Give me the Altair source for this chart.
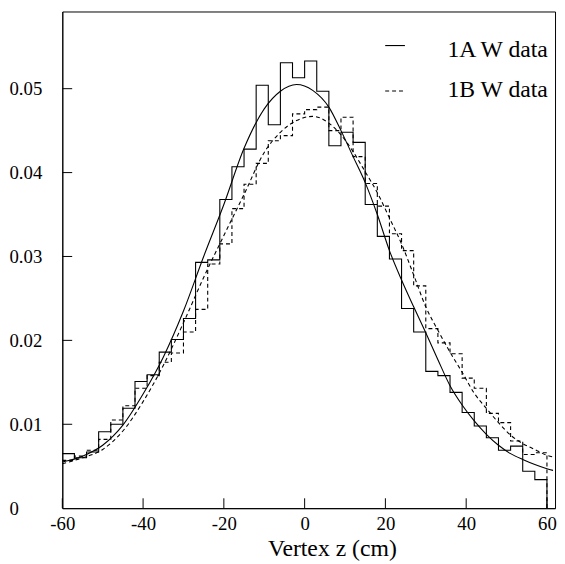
import altair as alt
import pandas as pd

# ---------------- data ----------------
bin_left = [-60, -57, -54, -51, -48, -45, -42, -39, -36, -33,
            -30, -27, -24, -21, -18, -15, -12, -9, -6, -3,
            0, 3, 6, 9, 12, 15, 18, 21, 24, 27,
            30, 33, 36, 39, 42, 45, 48, 51, 54, 57]
bin_end = 60

hist_1a = [0.0065, 0.0060, 0.0067, 0.0091, 0.0100, 0.0119, 0.0151, 0.0159, 0.0186, 0.0201,
           0.0226, 0.0293, 0.0296, 0.0368, 0.0407, 0.0428, 0.0504, 0.0457, 0.0531, 0.0513,
           0.0533, 0.0497, 0.0432, 0.0448, 0.0436, 0.0362, 0.0324, 0.0297, 0.0238, 0.0210,
           0.0163, 0.0158, 0.0138, 0.0114, 0.0098, 0.0084, 0.0069, 0.0074, 0.0044, 0.0034]

hist_1b = [0.0057, 0.0062, 0.0069, 0.0082, 0.0105, 0.0122, 0.0143, 0.0158, 0.0174, 0.0185,
           0.0210, 0.0237, 0.0291, 0.0315, 0.0357, 0.0386, 0.0411, 0.0438, 0.0444, 0.0470,
           0.0475, 0.0478, 0.0450, 0.0466, 0.0419, 0.0387, 0.0360, 0.0327, 0.0307, 0.0265,
           0.0214, 0.0197, 0.0184, 0.0155, 0.0143, 0.0113, 0.0102, 0.0080, 0.0064, 0.0066]

fit_x = [-60, -55, -50, -45, -40, -35, -30, -25, -20, -15, -10, -6, -2, 2, 6, 9, 12,
         15, 18, 21, 24, 27, 30, 33, 36, 39, 42, 45, 48, 51, 54, 57, 60, 61.5]
fit_1a = [0.0055, 0.0062, 0.0075, 0.0099, 0.0136, 0.0180, 0.0235, 0.0300, 0.0362, 0.0429,
          0.0476, 0.0497, 0.0505, 0.0498, 0.0478, 0.0450, 0.0419, 0.0388, 0.0350, 0.0307,
          0.0272, 0.0240, 0.0209, 0.0177, 0.0146, 0.0123, 0.0104, 0.0088, 0.0075, 0.0065,
          0.0058, 0.0052, 0.0047, 0.0045]
fit_1b = [0.0053, 0.0060, 0.0070, 0.0092, 0.0127, 0.0170, 0.0221, 0.0275, 0.0325, 0.0374,
          0.0424, 0.0448, 0.0462, 0.0467, 0.0459, 0.0445, 0.0425, 0.0401, 0.0376, 0.0346,
          0.0315, 0.0278, 0.0240, 0.0212, 0.0186, 0.0162, 0.0137, 0.0119, 0.0102, 0.0087,
          0.0077, 0.0070, 0.0063, 0.0061]

x_ticks = [-60, -40, -20, 0, 20, 40, 60]
y_ticks = [0, 0.01, 0.02, 0.03, 0.04, 0.05]
legend_labels = ["1A W data", "1B W data"]

# ---------------- chart ----------------
FONT = "Liberation Serif"
W, H = 499, 503
DASH = [4, 3]

xs = alt.Scale(domain=[-60, 62], nice=False, zero=False)
ys = alt.Scale(domain=[0, 0.0592], nice=False, zero=True)


def step_df(vals):
    xv = list(bin_left) + [bin_end, bin_end]
    yv = list(vals) + [vals[-1], 0.0]
    return pd.DataFrame({"x": xv, "v": yv, "i": list(range(len(xv)))})


x_axis = alt.Axis(values=x_ticks, tickSize=0, grid=False, labelFlush=False,
                  labelFont=FONT, labelFontSize=19, labelColor="black", labelPadding=7,
                  labelExpr="'' + datum.value",
                  title="Vertex z (cm)", titleFont=FONT, titleFontSize=24,
                  titleFontWeight="normal", titleColor="black",
                  titleX=273, titleY=48, titleBaseline="alphabetic",
                  domainColor="black", domainWidth=1)
y_axis = alt.Axis(values=y_ticks, tickSize=0, grid=False, labelFlush=False,
                  labelFont=FONT, labelFontSize=19, labelColor="black",
                  labelAlign="left", labelBaseline="middle", labelPadding=54,
                  labelOverlap=False,
                  labelExpr="datum.value == 0 ? '0' : format(datum.value, '.2f')",
                  title=None, domainColor="black", domainWidth=1)

hist_a = alt.Chart(step_df(hist_1a)).mark_line(
    interpolate="step-after", color="black", strokeWidth=1.1
).encode(x=alt.X("x:Q", scale=xs, axis=x_axis),
         y=alt.Y("v:Q", scale=ys, axis=y_axis),
         order=alt.Order("i:Q"))

hist_b = alt.Chart(step_df(hist_1b)).mark_line(
    interpolate="step-after", color="black", strokeWidth=1.1, strokeDash=DASH
).encode(x=alt.X("x:Q", scale=xs), y=alt.Y("v:Q", scale=ys), order=alt.Order("i:Q"))

fit_df = pd.DataFrame({"x": fit_x, "a": fit_1a, "b": fit_1b})
curve_a = alt.Chart(fit_df).mark_line(
    interpolate="monotone", color="black", strokeWidth=1.1
).encode(x=alt.X("x:Q", scale=xs), y=alt.Y("a:Q", scale=ys))
curve_b = alt.Chart(fit_df).mark_line(
    interpolate="monotone", color="black", strokeWidth=1.1, strokeDash=DASH
).encode(x=alt.X("x:Q", scale=xs), y=alt.Y("b:Q", scale=ys))

# inward ticks
xt = alt.Chart(pd.DataFrame({"t": x_ticks})).mark_rule(color="black", strokeWidth=1).encode(
    x=alt.X("t:Q", scale=xs), y=alt.value(H), y2=alt.value(H - 10))
yt = alt.Chart(pd.DataFrame({"t": y_ticks[1:]})).mark_rule(color="black", strokeWidth=1).encode(
    y=alt.Y("t:Q", scale=ys), x=alt.value(0), x2=alt.value(10))

# legend
leg_df1 = pd.DataFrame({"label": [legend_labels[0]]})
leg_df2 = pd.DataFrame({"label": [legend_labels[1]]})
leg_line1 = alt.Chart(leg_df1).mark_rule(color="black", strokeWidth=1.1).encode(
    x=alt.value(327), x2=alt.value(347), y=alt.value(34.5))
leg_line2 = alt.Chart(leg_df2).mark_rule(color="black", strokeWidth=1.1, strokeDash=DASH).encode(
    x=alt.value(327), x2=alt.value(347), y=alt.value(80.5))
leg_text1 = alt.Chart(leg_df1).mark_text(
    font=FONT, fontSize=24, align="left", baseline="alphabetic", color="black"
).encode(text="label:N", x=alt.value(390), y=alt.value(46))
leg_text2 = alt.Chart(leg_df2).mark_text(
    font=FONT, fontSize=24, align="left", baseline="alphabetic", color="black"
).encode(text="label:N", x=alt.value(390), y=alt.value(87))

chart = alt.layer(
    hist_a, hist_b, curve_a, curve_b, xt, yt,
    leg_line1, leg_line2, leg_text1, leg_text2
).properties(
    width=W, height=H,
    autosize=alt.AutoSizeParams(type="none"),
    padding={"left": 55, "top": 0, "right": 2, "bottom": 53},
    background="white",
).configure_view(stroke="black", strokeWidth=1)

chart.save("out.html", embed_options={"renderer": "svg", "actions": False})
